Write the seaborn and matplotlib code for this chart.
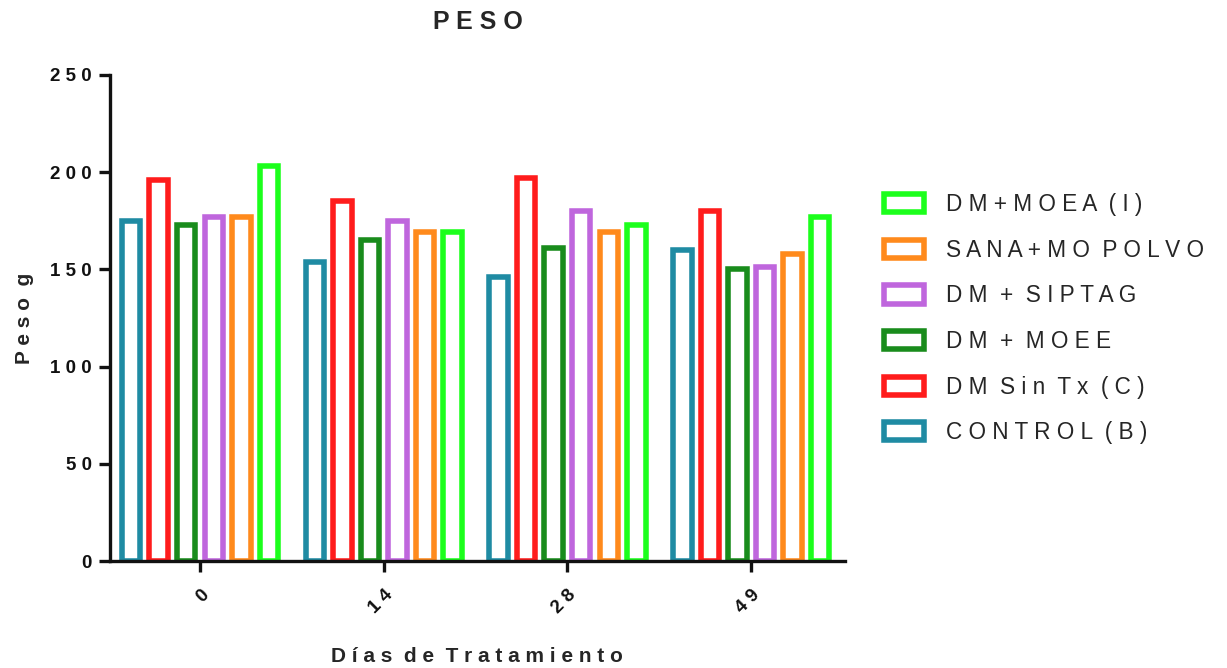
import matplotlib
matplotlib.use("Agg")
import matplotlib.pyplot as plt
from matplotlib.patches import Patch
import seaborn as sns
import pandas as pd

# Treatment days and group names
dias = ["0", "14", "28", "49"]
grupos = ["CONTROL (B)", "DM Sin Tx (C)", "DM + MOEE", "DM + SIPTAG",
          "SANA+MO POLVO", "DM+MOEA (I)"]

# Mean body weight (g) per group, one value per day
control = [175, 154, 146, 160]
dm_sin_tx = [196, 185, 197, 180]
dm_moee = [173, 165, 161, 150]
dm_siptag = [177, 175, 180, 151]
sana_mo_polvo = [177, 169, 169, 158]
dm_moea = [203, 169, 173, 177]

colores = ["#1F8BA3", "#FF1C1C", "#198C1C", "#BF66DD", "#FF8A1C", "#1CFF1C"]

valores = [control, dm_sin_tx, dm_moee, dm_siptag, sana_mo_polvo, dm_moea]
df = pd.DataFrame(
    [(d, g, v) for g, serie in zip(grupos, valores) for d, v in zip(dias, serie)],
    columns=["dia", "grupo", "peso"],
)


def tracked(s):
    """Letter-spaced text: one space between letters, two between words."""
    return "  ".join(" ".join(w) for w in s.split(" "))


sns.set_style("ticks")
plt.rcParams["font.family"] = ["Liberation Sans", "DejaVu Sans"]

fig = plt.figure(figsize=(12.27, 6.68), dpi=100)
ax = fig.add_axes([0.0896, 0.160, 0.599, 0.728])

sns.barplot(
    data=df, x="dia", y="peso", hue="grupo", order=dias, hue_order=grupos,
    palette=colores, fill=False, width=0.9, gap=0.33, linewidth=4.0,
    errorbar=None, legend=False, ax=ax,
)

ax.set_ylim(0, 250)
ax.set_xlim(-0.49, 3.51)
yticks = [0, 50, 100, 150, 200, 250]
ax.set_yticks(yticks)
ax.set_yticklabels([tracked(str(v)) for v in yticks], fontsize=13.5,
                   fontweight="bold")
ax.set_xticks(range(len(dias)))
ax.set_xticklabels([tracked(d) for d in dias], fontsize=13.5, fontweight="bold",
                   rotation=45, ha="right", rotation_mode="anchor")

sns.despine(ax=ax)
for side in ("left", "bottom"):
    ax.spines[side].set_linewidth(2.4)
    ax.spines[side].set_color("#111111")
ax.tick_params(axis="both", direction="out", length=8, width=2.4,
               color="#111111", labelcolor="#111111", pad=5)
ax.tick_params(axis="x", pad=10)

ax.set_xlabel(tracked("Días de Tratamiento"), fontsize=15, fontweight="bold",
              labelpad=22)
ax.set_ylabel(tracked("Peso g"), fontsize=15, fontweight="bold", labelpad=12)
ax.set_title(tracked("PESO"), fontsize=18, fontweight="bold", pad=33)

handles = [Patch(facecolor="none", edgecolor=c, linewidth=4.0)
           for c in colores][::-1]
labels = [tracked(g) for g in grupos][::-1]
fig.legend(handles, labels, loc="center left", bbox_to_anchor=(0.704, 0.523),
           frameon=False, fontsize=16.3, handlelength=1.75, handleheight=0.85,
           labelspacing=1.0, handletextpad=1.0)

fig.savefig("out.png", dpi=100)
